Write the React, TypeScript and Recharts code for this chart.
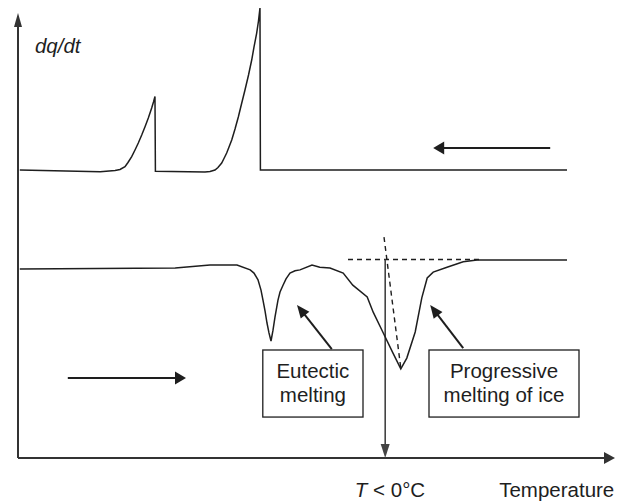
import React from 'react';
import { LineChart, Line, XAxis, YAxis, ReferenceLine, ReferenceArea, ReferenceDot } from 'recharts';

// cooling scan (top trace, read right to left): temperature / heat flow, arbitrary units
const coolingT = [
  0.3, 13.7, 16.17, 17.0, 17.83, 18.33, 18.95, 19.5, 20.05, 20.62, 21.17, 21.72, 22.28, 22.58, 22.83, 22.9,
  31.17, 32.0, 32.83, 33.33, 33.95, 34.33, 34.78, 35.17, 35.62, 36.17, 36.72, 37.25, 37.83, 38.42, 38.95, 39.33, 39.78, 40.08, 40.33, 40.4,
  91.5,
];
const coolingQ = [
  64.0, 63.6, 63.89, 64.11, 64.73, 65.67, 66.96, 68.44, 70.0, 71.78, 73.62, 75.56, 77.78, 79.11, 80.33, 63.7,
  63.56, 63.67, 64.0, 64.56, 65.56, 66.56, 67.78, 69.11, 70.67, 73.11, 75.78, 78.67, 81.78, 85.11, 88.44, 91.33, 94.44, 97.11, 100.0, 64.0,
  64.0,
];

// heating scan (bottom trace)
const heatingT = [
  0.3, 26.2, 32.0, 36.5, 38.7, 39.33, 40.0, 40.5, 40.83, 41.17, 41.5, 41.83, 42.17, 42.5, 42.83, 43.33, 43.67, 44.17, 44.67, 45.33, 46.17, 47.0,
  49.0, 50.3, 52.0, 54.2, 55.8, 58.2, 59.2, 60.8, 62.5, 63.8, 64.8, 66.2, 67.3, 68.2, 69.2, 71.5, 74.2, 76.5, 91.5,
];
const heatingQ = [
  42.0, 42.2, 42.9, 42.9, 41.8, 41.1, 39.6, 37.3, 35.1, 32.7, 30.0, 27.8, 26.0, 28.4, 31.3, 35.1, 36.9, 38.4, 39.8, 41.1, 41.6, 41.8,
  42.9, 42.4, 42.2, 41.1, 38.4, 35.8, 32.4, 28.0, 23.3, 19.8, 22.2, 28.0, 35.6, 40.0, 41.3, 42.4, 43.6, 44.0, 44.0,
];

// onset construction
const onsetT = 61.2;
const baselineQ = 44.1;

const yLabel = 'dq/dt';
const xLabel = 'Temperature';
const onsetLabel = ' < 0°C';
const eutecticLines = ['Eutectic', 'melting'];
const progressiveLines = ['Progressive', 'melting of ice'];

const coolingData = coolingT.map((x, i) => ({ x, y: coolingQ[i] }));
const heatingData = heatingT.map((x, i) => ({ x, y: heatingQ[i] }));

const FONT = '"Liberation Sans", Arial, Helvetica, sans-serif';
const FS = 20.5;
const INK = '#1e1e1e';

const arrow = (len: number, half: number, color: string, width: number) => (p: any) => {
  const { x1, y1, x2, y2 } = p;
  const a = Math.atan2(y2 - y1, x2 - x1);
  const c = Math.cos(a);
  const s = Math.sin(a);
  const bx = x2 - len * c;
  const by = y2 - len * s;
  return (
    <g>
      <line x1={x1} y1={y1} x2={bx + c} y2={by + s} stroke={color} strokeWidth={width} />
      <polygon
        points={`${x2},${y2} ${bx - s * half},${by + c * half} ${bx + s * half},${by - c * half}`}
        fill={color}
      />
    </g>
  );
};

const box = (lines: string[]) => (p: any) => {
  const { x, y, width, height } = p;
  return (
    <g>
      <rect x={x} y={y} width={width} height={height} fill="#fff" stroke={INK} strokeWidth={1.3} />
      {lines.map((t, i) => (
        <text key={t} x={x + width / 2} y={y + 28 + i * 24} textAnchor="middle" fontFamily={FONT} fontSize={FS} fill={INK}>
          {t}
        </text>
      ))}
    </g>
  );
};

export default function App() {
  return (
    <div style={{ position: 'absolute', left: 0, top: 0, background: '#fff' }}>
      <LineChart width={631} height={503} margin={{ top: 8, right: 13, left: 18, bottom: 45 }}>
        <XAxis type="number" dataKey="x" domain={[0, 100]} hide allowDataOverflow />
        <YAxis type="number" dataKey="y" domain={[0, 100]} hide allowDataOverflow />

        {/* axes with arrowheads */}
        <ReferenceLine segment={[{ x: 0, y: 0 }, { x: 0, y: 98.9 }]} ifOverflow="visible" shape={arrow(14, 4, '#333', 2)} />
        <ReferenceLine segment={[{ x: 0, y: 0 }, { x: 99.5, y: 0 }]} ifOverflow="visible" shape={arrow(11, 6, '#333', 2)} />

        {/* scan direction arrows */}
        <ReferenceLine segment={[{ x: 88.7, y: 68.9 }, { x: 69.2, y: 68.9 }]} ifOverflow="visible" shape={arrow(11, 6.5, INK, 2)} />
        <ReferenceLine segment={[{ x: 8.3, y: 17.8 }, { x: 28.0, y: 17.8 }]} ifOverflow="visible" shape={arrow(11, 6.5, INK, 2)} />

        {/* onset construction */}
        <ReferenceLine segment={[{ x: 55.0, y: baselineQ }, { x: 77.0, y: baselineQ }]} ifOverflow="visible" stroke={INK} strokeWidth={1.4} strokeDasharray="5 4" />
        <ReferenceLine segment={[{ x: 61.0, y: 49.1 }, { x: 63.8, y: 20.0 }]} ifOverflow="visible" stroke={INK} strokeWidth={1.4} strokeDasharray="5 4" />
        <ReferenceLine segment={[{ x: onsetT, y: baselineQ }, { x: onsetT, y: 0 }]} ifOverflow="visible" shape={arrow(14, 4.5, '#444', 1.6)} />

        {/* annotation boxes and pointers */}
        <ReferenceArea x1={40.8} x2={57.5} y1={9.1} y2={24.0} ifOverflow="visible" shape={box(eutecticLines)} />
        <ReferenceArea x1={68.5} x2={93.5} y1={9.1} y2={24.0} ifOverflow="visible" shape={box(progressiveLines)} />
        <ReferenceLine segment={[{ x: 52.3, y: 24.2 }, { x: 46.5, y: 34.0 }]} ifOverflow="visible" shape={arrow(13, 5.5, INK, 2)} />
        <ReferenceLine segment={[{ x: 74.2, y: 24.4 }, { x: 68.7, y: 34.0 }]} ifOverflow="visible" shape={arrow(13, 5.5, INK, 2)} />

        <Line data={coolingData} dataKey="y" type="linear" stroke={INK} strokeWidth={1.5} dot={false} isAnimationActive={false} />
        <Line data={heatingData} dataKey="y" type="linear" stroke={INK} strokeWidth={1.5} dot={false} isAnimationActive={false} />

        {/* text labels */}
        <ReferenceDot
          x={2.83}
          y={90.0}
          r={0}
          ifOverflow="visible"
          shape={(p: any) => (
            <text x={p.cx} y={p.cy} fontFamily={FONT} fontSize={FS} fontStyle="italic" fill={INK}>
              {yLabel}
            </text>
          )}
        />
        <ReferenceDot
          x={62.0}
          y={-8.67}
          r={0}
          ifOverflow="visible"
          shape={(p: any) => (
            <text x={p.cx} y={p.cy} textAnchor="middle" fontFamily={FONT} fontSize={FS} fill={INK}>
              <tspan fontStyle="italic">T</tspan>
              {onsetLabel}
            </text>
          )}
        />
        <ReferenceDot
          x={80.2}
          y={-8.67}
          r={0}
          ifOverflow="visible"
          shape={(p: any) => (
            <text x={p.cx} y={p.cy} fontFamily={FONT} fontSize={FS} fill={INK}>
              {xLabel}
            </text>
          )}
        />
      </LineChart>
    </div>
  );
}
